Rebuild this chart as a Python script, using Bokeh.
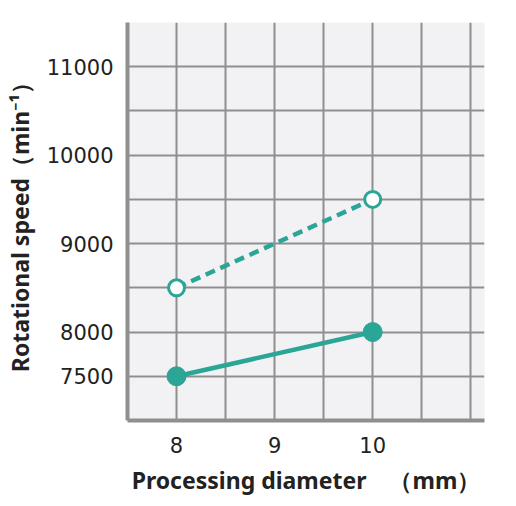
from bokeh.plotting import figure
from bokeh.models import FixedTicker, SingleIntervalTicker, Range1d, ColumnDataSource
from bokeh.embed import file_html
from bokeh.resources import INLINE

# Data
diameters = [8, 10]
speed_dashed = [8500, 9500]   # open circles, dashed line
speed_solid = [7500, 8000]    # filled circles, solid line
x_ticks = [8, 9, 10]
y_ticks = [7500, 8000, 9000, 10000, 11000]

TEAL = "#2aa596"
GRID = "#8f8f8f"

p = figure(width=508, height=498, output_backend="svg", toolbar_location=None,
           x_range=Range1d(7.5, 11.14), y_range=Range1d(7000, 11500),
           min_border_left=127, min_border_top=22, min_border_right=24, min_border_bottom=78)
p.background_fill_color = "#f2f2f4"
p.border_fill_color = "white"
p.outline_line_color = None

# grid
p.xgrid.ticker = SingleIntervalTicker(interval=0.5)
p.ygrid.ticker = SingleIntervalTicker(interval=500)
for g in (p.xgrid, p.ygrid):
    g.grid_line_color = GRID
    g.grid_line_width = 2

# axes
for ax in (p.xaxis, p.yaxis):
    ax.axis_line_color = GRID
    ax.axis_line_width = 4
    ax.major_tick_line_color = None
    ax.minor_tick_line_color = None
    ax.major_label_text_font = "DejaVu Sans"
    ax.major_label_text_font_size = "21px"
    ax.major_label_text_color = "#222222"
    ax.axis_label_text_font = "Noto Sans"
    ax.axis_label_text_font_style = "bold"
    ax.axis_label_text_font_size = "23px"
    ax.axis_label_text_color = "#222222"

p.xaxis.ticker = FixedTicker(ticks=x_ticks)
p.yaxis.ticker = FixedTicker(ticks=y_ticks)
p.xaxis.major_label_standoff = 10
p.yaxis.major_label_standoff = 8
p.xaxis.axis_label = "Processing diameter\u3000\uff08mm\uff09"
p.yaxis.axis_label = "Rotational speed\uff08min\u207b\u00b9\uff09"
p.xaxis.axis_label_standoff = 8
p.yaxis.axis_label_standoff = 8

src_d = ColumnDataSource(dict(x=diameters, y=speed_dashed))
src_s = ColumnDataSource(dict(x=diameters, y=speed_solid))

p.line("x", "y", source=src_d, line_color=TEAL, line_width=4.5, line_dash="10 6")
p.scatter("x", "y", source=src_d, size=16, fill_color="white", line_color=TEAL, line_width=3)

p.line("x", "y", source=src_s, line_color=TEAL, line_width=4.5)
p.scatter("x", "y", source=src_s, size=19, fill_color=TEAL, line_color=TEAL)

open("out.html", "w").write(file_html(p, INLINE))
